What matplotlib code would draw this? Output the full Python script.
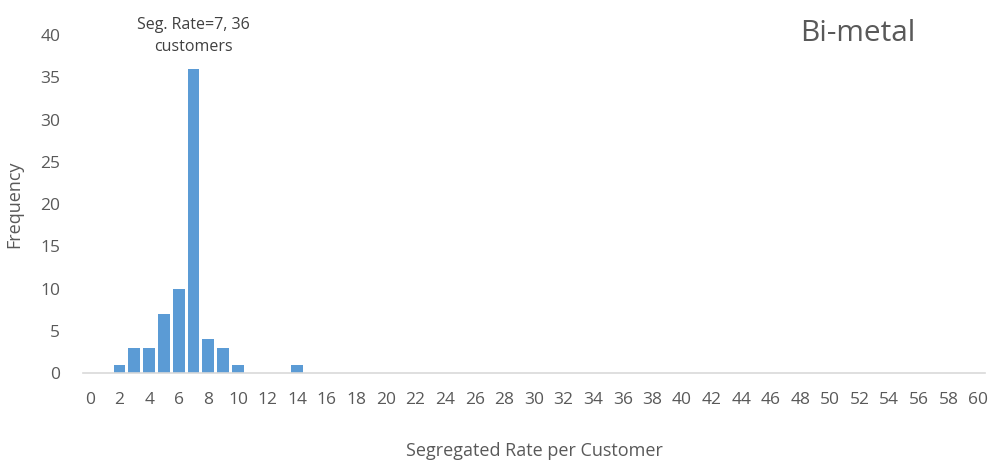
import numpy as np
import matplotlib
matplotlib.use('Agg')
from matplotlib import pyplot as plt

# segregated rate categories and counts
rates = list(range(0, 61))
counts_known = {2: 1, 3: 3, 4: 3, 5: 7, 6: 10, 7: 36, 8: 4, 9: 3, 10: 1, 14: 1}
counts = [counts_known.get(r, 0) for r in rates]
tick_labels = [str(r) for r in rates[::2]]

plt.rcParams['font.family'] = ['Open Sans', 'DejaVu Sans']
grey = '#595959'

fig = plt.figure(figsize=(9.9, 4.62), dpi=100)
ax = fig.add_axes([0.0834, 0.1926, 0.912, 0.7314])

ax.bar(rates, counts, width=0.8, color='#5b9bd5')

ax.set_xlim(-0.5, 60.5)
ax.set_ylim(0, 40)
ax.set_xticks(rates[::2])
ax.set_xticklabels(tick_labels)
ax.set_yticks(range(0, 41, 5))

for s in ['top', 'right', 'left']:
    ax.spines[s].set_visible(False)
ax.spines['bottom'].set_color('#d9d9d9')
ax.spines['bottom'].set_linewidth(1.2)
ax.tick_params(length=0, labelsize=12.5, colors=grey, pad=14)
ax.tick_params(axis='y', pad=16)

ax.set_xlabel('Segregated Rate per Customer', fontsize=13, color=grey, labelpad=24)
ax.set_ylabel('Frequency', fontsize=13, color=grey, labelpad=12)

ax.annotate('Seg. Rate=7, 36\ncustomers', xy=(7, 36), xytext=(7, 37.7),
            ha='center', va='bottom', fontsize=11.5, color='#404040', linespacing=1.5,
            annotation_clip=False)

fig.text(0.866, 0.927, 'Bi-metal', fontsize=21.5, color=grey, ha='center', va='center')

fig.savefig('out.png', dpi=100)
